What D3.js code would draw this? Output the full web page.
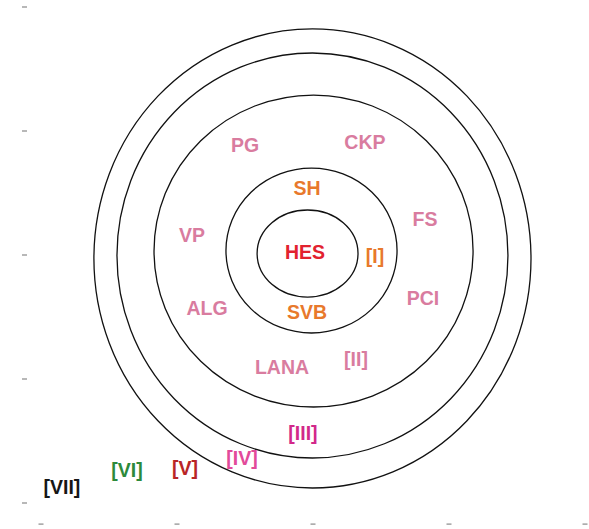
<!DOCTYPE html>
<html>
<head>
<meta charset="utf-8">
<script src="https://cdn.jsdelivr.net/npm/d3@7"></script>
<style>
  body { margin: 0; background: #fff; }
  svg { display: block; }
</style>
</head>
<body>
<svg id="chart" width="589" height="529"></svg>
<script>
// rings, in data units (centre and radii)
var ringCx = [1.96, 1.989, 2.004, 1.996, 1.996];
var ringCy = [2.012, 2.036, 2.032, 1.996, 1.972];
var ringRx = [0.371, 0.629, 1.173, 1.4375, 1.607];
var ringRy = [0.351, 0.665, 1.258, 1.633, 1.851];

// labels
var labels = ["HES", "SH", "SVB", "[I]", "PG", "CKP", "FS", "VP", "ALG", "PCI", "LANA", "[II]", "[III]", "[IV]", "[V]", "[VI]", "[VII]"];
var labelX = [1.941, 1.956, 1.956, 2.456, 1.5, 2.382, 2.824, 1.11, 1.221, 2.809, 1.772, 2.316, 1.926, 1.478, 1.059, 0.632, 0.154];
var labelY = [2.024, 2.54, 1.54, 1.992, 2.887, 2.911, 2.29, 2.161, 1.573, 1.653, 1.097, 1.161, 0.565, 0.363, 0.282, 0.266, 0.129];
var labelGroup = ["core", "one", "one", "one", "two", "two", "two", "two", "two", "two", "two", "two", "three", "four", "five", "six", "seven"];

var xTicks = [0, 1, 2, 3, 4];
var yTicks = [0, 1, 2, 3, 4];

var colors = {
  core: "#e2222f",
  one: "#e8792c",
  two: "#d97c9f",
  three: "#d2288a",
  four: "#e24a9a",
  five: "#b92526",
  six: "#2c8a3b",
  seven: "#161616"
};

var svg = d3.select("#chart");

var x = d3.scaleLinear().domain([0, 4]).range([41, 585]);
var y = d3.scaleLinear().domain([0, 4]).range([503, 7]);

// faint tick dashes
svg.append("g").selectAll("rect")
  .data(yTicks)
  .enter().append("rect")
  .attr("x", 22)
  .attr("y", function(d) { return y(d) - 0.6; })
  .attr("width", 5)
  .attr("height", 1.2)
  .attr("fill", "#8a8a8a");

svg.append("g").selectAll("rect")
  .data(xTicks)
  .enter().append("rect")
  .attr("x", function(d) { return x(d) - 2.5; })
  .attr("y", 523.5)
  .attr("width", 5)
  .attr("height", 1.2)
  .attr("fill", "#8a8a8a");

// concentric rings
svg.append("g").selectAll("ellipse")
  .data(ringRx)
  .enter().append("ellipse")
  .attr("cx", function(d, i) { return x(ringCx[i]); })
  .attr("cy", function(d, i) { return y(ringCy[i]); })
  .attr("rx", function(d) { return x(d) - x(0); })
  .attr("ry", function(d, i) { return y(0) - y(ringRy[i]); })
  .attr("fill", "none")
  .attr("stroke", "#111")
  .attr("stroke-width", 1.3);

svg.append("g").selectAll("text")
  .data(labels)
  .enter().append("text")
  .attr("x", function(d, i) { return x(labelX[i]); })
  .attr("y", function(d, i) { return y(labelY[i]); })
  .attr("text-anchor", "middle")
  .attr("dominant-baseline", "central")
  .attr("font-family", "'Liberation Sans', Arial, sans-serif")
  .attr("font-weight", "bold")
  .attr("font-size", 19.5)
  .attr("fill", function(d, i) { return colors[labelGroup[i]]; })
  .text(function(d) { return d; });
</script>
</body>
</html>
